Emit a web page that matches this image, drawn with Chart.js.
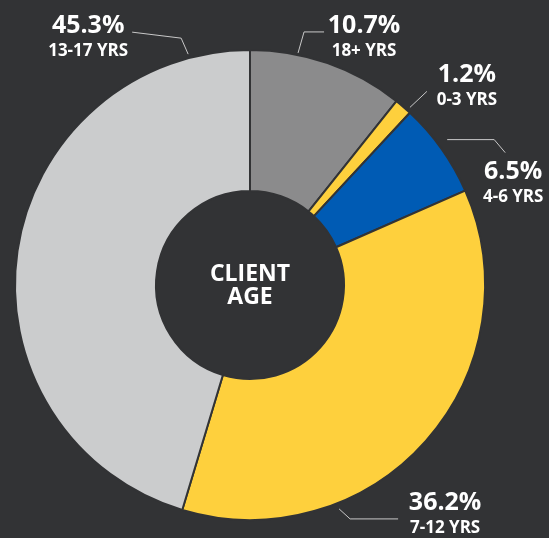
<!DOCTYPE html>
<html>
<head>
<meta charset="utf-8">
<script src="https://cdn.jsdelivr.net/npm/chart.js@4"></script>
<style>
  html, body { margin: 0; padding: 0; background: #323335; }
  #wrap { width: 549px; height: 538px; }
</style>
</head>
<body>
<div id="wrap"><canvas id="age-chart" width="549" height="538"></canvas></div>
<script>
// Client age breakdown (clockwise from 12 o'clock)
const ageGroups = ['18+ YRS', '0-3 YRS', '4-6 YRS', '7-12 YRS', '13-17 YRS'];
const agePercent = [10.7, 1.2, 6.5, 36.2, 45.3];
const sliceColors = ['#8b8b8c', '#fed03d', '#005bb4', '#fed03d', '#cbcccd'];

const BG = '#323335';
const FONT = '"Open Sans", "Noto Sans", sans-serif';

// callout layout: anchor angle (deg clockwise from top) just outside the ring,
// leader path and text centre relative to that anchor
const callouts = [
  { idx: 0, ang: 11.7, gap: 2, path: [[6, -21], [26, -21]], text: [66, -20] },
  { idx: 1, ang: 42, gap: 4, path: [[17, -16]], text: [57, -25] },
  { idx: 2, ang: 53.6, gap: 10, path: [[47, 0], [58, 13]], text: [66, 39] },
  { idx: 3, ang: 158.3, gap: 6, path: [[11, 10], [59, 10]], text: [106, 1] },
  { idx: 4, ang: 345, gap: 4, path: [[-7, -16], [-56, -22]], text: [-100, -21] }
];

const calloutPlugin = {
  id: 'callouts',
  afterDatasetsDraw(chart) {
    const ctx = chart.ctx;
    const arcs = chart.getDatasetMeta(0).data;
    const a0 = arcs[0];
    const cx = a0.x, cy = a0.y, R = a0.outerRadius;
    ctx.save();

    // centre caption
    ctx.fillStyle = '#ffffff';
    ctx.textAlign = 'center';
    ctx.textBaseline = 'alphabetic';
    ctx.font = 'bold 23px ' + FONT;
    ctx.fillText('CLIENT', cx, cy - 4);
    ctx.fillText('AGE', cx, cy + 19);

    callouts.forEach(c => {
      const t = c.ang * Math.PI / 180;
      const ax = cx + Math.sin(t) * (R + c.gap);
      const ay = cy - Math.cos(t) * (R + c.gap);
      ctx.strokeStyle = '#c9c9c9';
      ctx.lineWidth = 1;
      ctx.beginPath();
      ctx.moveTo(ax, ay);
      c.path.forEach(p => ctx.lineTo(ax + p[0], ay + p[1]));
      ctx.stroke();

      const tx = ax + c.text[0], ty = ay + c.text[1];
      ctx.fillStyle = '#ffffff';
      ctx.font = 'bold 25px ' + FONT;
      ctx.fillText(agePercent[c.idx].toFixed(1) + '%', tx, ty);
      ctx.font = 'bold 17px ' + FONT;
      ctx.fillText(ageGroups[c.idx], tx, ty + 23);
    });
    ctx.restore();
  }
};

new Chart(document.getElementById('age-chart'), {
  type: 'doughnut',
  data: {
    labels: ageGroups,
    datasets: [{
      data: agePercent,
      backgroundColor: sliceColors,
      borderColor: BG,
      borderWidth: 2,
      hoverOffset: 0
    }]
  },
  options: {
    responsive: false,
    devicePixelRatio: 1,
    animation: false,
    cutout: '40%',
    layout: { padding: { left: 14, right: 63, top: 49, bottom: 17 } },
    plugins: {
      legend: { display: false },
      tooltip: { enabled: false }
    }
  },
  plugins: [calloutPlugin]
});
</script>
</body>
</html>
